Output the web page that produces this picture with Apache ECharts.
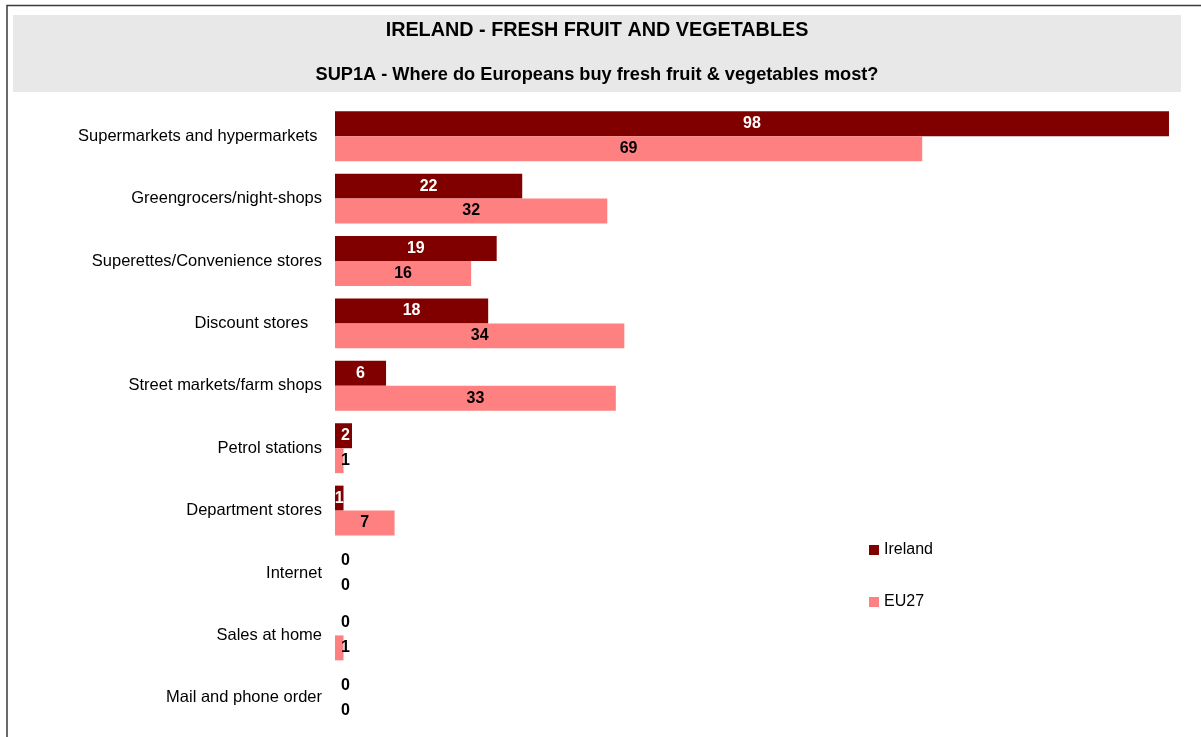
<!DOCTYPE html>
<html>
<head>
<meta charset="utf-8">
<script src="https://cdn.jsdelivr.net/npm/echarts@6/dist/echarts.min.js"></script>
<style>
  html, body { margin: 0; padding: 0; background: #fff; }
  #chart { width: 1201px; height: 737px; }
</style>
</head>
<body>
<div id="chart"></div>
<script type="text/javascript">
  var categories = ['Supermarkets and hypermarkets ', 'Greengrocers/night-shops', 'Superettes/Convenience stores',
    'Discount stores   ', 'Street markets/farm shops', 'Petrol stations', 'Department stores',
    'Internet', 'Sales at home', 'Mail and phone order'];
  var ireland = [98, 22, 19, 18, 6, 2, 1, 0, 0, 0];
  var eu27 = [69, 32, 16, 34, 33, 1, 7, 0, 1, 0];

  // small bars get their label pushed just right of the axis, like the original
  function buildData(values, textColor, centerOnes) {
    return values.map(function (v) {
      var item = { value: v };
      if (v === 1 && centerOnes) return item;
      if (v < 3) {
        item.label = {
          position: [6, '50%'],
          align: 'left',
          verticalAlign: 'middle',
          color: v === 0 ? '#000' : textColor
        };
      }
      return item;
    });
  }

  var labelFont = { fontFamily: 'Liberation Sans', fontSize: 16, fontWeight: 'bold' };

  var option = {
    animation: false,
    textStyle: { fontFamily: 'Liberation Sans' },
    graphic: [
      { type: 'rect', shape: { x: 13, y: 15, width: 1168, height: 77 }, style: { fill: '#e8e8e8' }, z: -10 },
      { type: 'polyline', shape: { points: [[7, 737], [7, 5.5], [1201, 5.5]] }, style: { stroke: '#3a3a3a', lineWidth: 1.5, fill: null } }
    ],
    title: [
      { text: 'IRELAND - FRESH FRUIT AND VEGETABLES', left: 592, textAlign: 'center', top: 16,
        textStyle: { fontFamily: 'Liberation Sans', fontSize: 19.8, fontWeight: 'bold', color: '#000' } },
      { text: 'SUP1A - Where do Europeans buy fresh fruit & vegetables most?', left: 592, textAlign: 'center', top: 61,
        textStyle: { fontFamily: 'Liberation Sans', fontSize: 18.2, fontWeight: 'bold', color: '#000' } }
    ],
    legend: {
      orient: 'vertical',
      left: 864,
      top: 537,
      itemWidth: 10,
      itemHeight: 10,
      itemGap: 36,
      icon: 'rect',
      textStyle: { fontFamily: 'Liberation Sans', fontSize: 16, color: '#000' },
      data: ['Ireland', 'EU27']
    },
    grid: { left: 335, right: 15, top: 105, bottom: 8, containLabel: false },
    xAxis: {
      type: 'value',
      min: 0,
      max: 100,
      show: false
    },
    yAxis: {
      type: 'category',
      inverse: true,
      data: categories,
      axisLine: { show: false },
      axisTick: { show: false },
      axisLabel: { fontFamily: 'Liberation Sans', fontSize: 16.5, color: '#000', margin: 13 }
    },
    series: [
      {
        name: 'Ireland',
        type: 'bar',
        barGap: '0%',
        barCategoryGap: '20%',
        itemStyle: { color: '#800000' },
        label: Object.assign({ show: true, position: 'inside', color: '#fff' }, labelFont),
        data: buildData(ireland, '#fff', true)
      },
      {
        name: 'EU27',
        type: 'bar',
        barGap: '0%',
        barCategoryGap: '20%',
        itemStyle: { color: '#ff8080' },
        label: Object.assign({ show: true, position: 'inside', color: '#000' }, labelFont),
        data: buildData(eu27, '#000', false)
      }
    ]
  };

  var myChart = echarts.init(document.getElementById('chart'));
  myChart.setOption(option);
</script>
</body>
</html>
